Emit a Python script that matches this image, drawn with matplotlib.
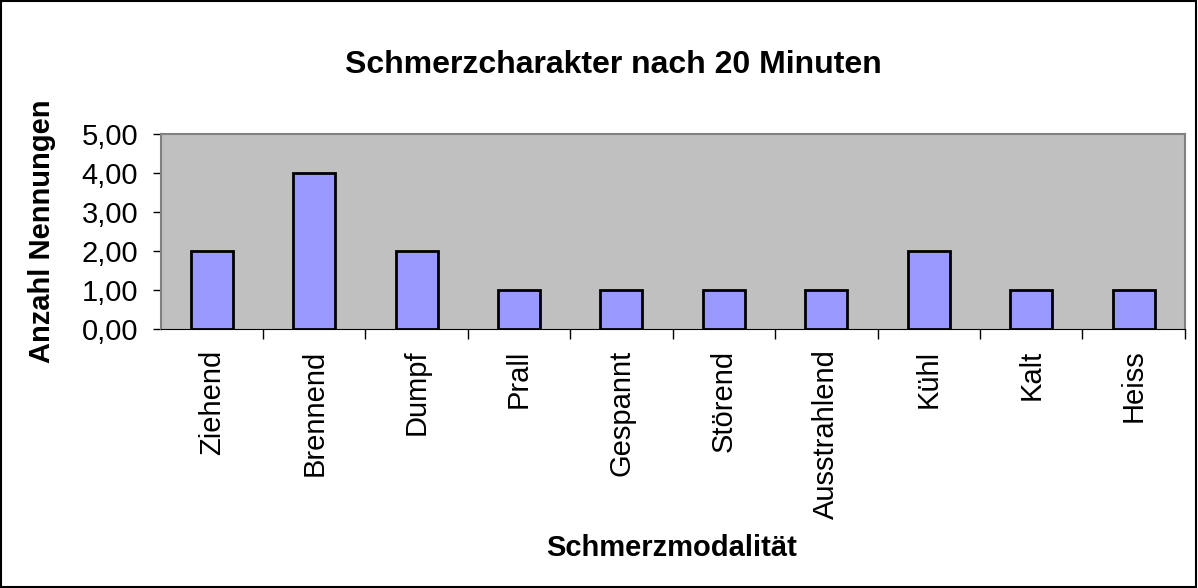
import numpy as np
import matplotlib.pyplot as plt

plt.rcParams['font.family'] = ['Liberation Sans', 'DejaVu Sans']

categories = ["Ziehend", "Brennend", "Dumpf", "Prall", "Gespannt",
              "Störend", "Ausstrahlend", "Kühl", "Kalt", "Heiss"]
counts = [2, 4, 2, 1, 1, 1, 1, 2, 1, 1]
y_ticks = [0, 1, 2, 3, 4, 5]

fig = plt.figure(figsize=(11.98, 5.88), dpi=100)
fig.patches.append(plt.Rectangle((0.0005, 0.001), 0.998, 0.997, transform=fig.transFigure,
                                 fill=False, edgecolor='black', linewidth=1.5))
ax = fig.add_axes([0.134, 0.441, 0.855, 0.331])
ax.set_facecolor('#C0C0C0')

x = np.arange(len(categories))
ax.bar(x, counts, width=0.41, color='#9999FF', edgecolor='black', linewidth=2)

ax.set_xlim(-0.5, len(categories) - 0.5)
ax.set_ylim(0, 5)
ax.set_yticks(y_ticks)
ax.set_yticklabels(["%d,00" % v for v in y_ticks], fontsize=21)
ax.set_xticks(x)
ax.set_xticklabels(categories, rotation=90, fontsize=21)
ax.tick_params(axis='x', length=0, pad=15)
ax.set_xticks(np.arange(0.5, len(categories), 1), minor=True)
ax.tick_params(axis='x', which='minor', length=7, width=1, color='black')
ax.tick_params(axis='y', length=6, width=1, color='black', pad=10)

for side in ['top', 'right', 'left']:
    ax.spines[side].set_color('#808080')
    ax.spines[side].set_linewidth(1.5)
ax.spines['bottom'].set_color('black')

fig.text(0.512, 0.889, "Schmerzcharakter nach 20 Minuten", ha='center', va='center',
         fontsize=23, fontweight='bold')
fig.text(0.035, 0.607, "Anzahl Nennungen", rotation=90, ha='center', va='center',
         fontsize=21, fontweight='bold')
fig.text(0.561, 0.068, "Schmerzmodalität", ha='center', va='center',
         fontsize=21, fontweight='bold')

fig.savefig("out.png", dpi=100)
